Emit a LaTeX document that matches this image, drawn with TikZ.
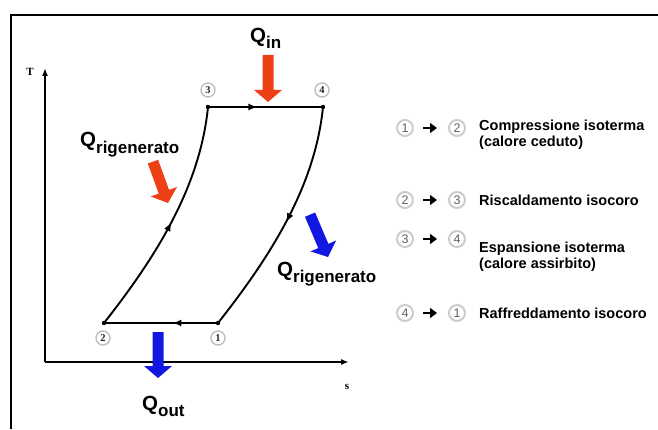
\documentclass[tikz,border=0pt]{standalone}
\usepackage{fontspec}
\setmainfont{Liberation Sans}
\newfontfamily\serifnum{Liberation Serif}
\usetikzlibrary{arrows.meta,decorations.markings}
\definecolor{qred}{RGB}{238,64,22}
\definecolor{qblue}{RGB}{18,24,226}
\tikzset{
  axis/.style = {line width=2pt, -{Latex[length=8pt,width=6pt]}},
  cyclepath/.style = {line width=1.9pt},
  midarrow/.style = {
    postaction={decorate},
    decoration={markings, mark=at position #1 with {\arrow{Latex[length=9pt,width=7pt]}}}
  },
  statenum/.style = {circle, draw=gray!50, line width=1.4pt, inner sep=0pt,
    minimum size=14pt, text=black!85, font=\serifnum\bfseries\fontsize{10.5}{10.5}\selectfont},
  legnum/.style = {circle, draw=gray!40, line width=2pt, inner sep=0pt,
    minimum size=16pt, text=gray!75!black, font=\fontsize{12.5}{12.5}\selectfont},
  legarrow/.style = {line width=2.8pt, -{Triangle[length=7pt,width=10pt]},
    shorten <=9pt, shorten >=11pt},
  legtext/.style = {anchor=west, align=left, inner sep=0pt,
    font=\bfseries\fontsize{14.5}{16.5}\selectfont},
  qlabel/.style = {anchor=base west, inner sep=0pt, font=\bfseries}
}

\begin{document}
\begin{tikzpicture}[x=1pt,y=1pt]
\useasboundingbox (0,0) rectangle (658,429);

% frame
\draw[line width=2.6pt] (11,0) -- (11,414) -- (658,414);

% axes
\coordinate (O) at (45,67);
\coordinate (Tend) at (45,361);
\coordinate (Send) at (349,67);
\draw[axis] (O) -- (Tend);
\draw[axis] (O) -- (Send);
\node[font=\serifnum\bfseries\fontsize{11}{11}\selectfont] (Tlab) at (30,357) {T};
\node[font=\serifnum\bfseries\fontsize{11}{11}\selectfont] (Slab) at (347,42) {s};

% cycle
\coordinate (P1) at (218,106);
\coordinate (P2) at (104,106);
\coordinate (P3) at (208,322);
\coordinate (P4) at (323,322);
\draw[cyclepath, midarrow=0.5] (P2) .. controls (156,172) and (200,242) .. (P3);
\draw[cyclepath, midarrow=0.43] (P3) -- (P4);
\draw[cyclepath, midarrow=0.5] (P4) .. controls (315,242) and (270,172) .. (P1);
\draw[cyclepath, midarrow=0.4] (P1) -- (P2);
\foreach \p in {P1,P2,P3,P4}
  \fill (\p) circle (2.2pt);

% state numbers
\node[statenum] (n1) at (218,91) {1};
\node[statenum] (n2) at (103,91) {2};
\node[statenum] (n3) at (208,339) {3};
\node[statenum] (n4) at (322,339) {4};

% heat arrow: colour, tip, direction, length
\newcommand{\heatarrow}[4]{%
  \fill[#1, shift={(#2)}, rotate=#3] (0,0) -- (-12,14) -- (-12,5.5) -- (-#4,5.5)
    -- (-#4,-5.5) -- (-12,-5.5) -- (-12,-14) -- cycle;%
}
\heatarrow{qred}{268,327}{-90}{47}
\heatarrow{qred}{168,226}{-70}{44}
\heatarrow{qblue}{328,172}{-67}{46}
\heatarrow{qblue}{158,51}{-90}{46}

% heat labels
\newcommand{\heatlabel}[3]{%
  \node[qlabel] (#1) at (#2) {{\fontsize{20.5}{20.5}\selectfont Q}%
    \raisebox{-6pt}{\fontsize{17}{17}\selectfont #3}};%
}
\heatlabel{qin}{250,386}{in}
\heatlabel{qregl}{80,282}{rigenerato}
\heatlabel{qregr}{277,153}{rigenerato}
\heatlabel{qout}{142,19}{out}

% legend
\foreach \a/\b/\y in {1/2/301, 2/3/229, 3/4/190, 4/1/116}{
  \node[legnum] (la\a) at (405,\y) {\a};
  \node[legnum] (lb\a) at (457,\y) {\b};
  \draw[legarrow] (la\a) -- (lb\a);
}
\node[legtext] (t1) at (479,294) {Compressione isoterma\\(calore ceduto)};
\node[legtext] (t2) at (479,229) {Riscaldamento isocoro};
\node[legtext] (t3) at (479,172.5) {Espansione isoterma\\(calore assirbito)};
\node[legtext] (t4) at (479,116) {Raffreddamento isocoro};
\end{tikzpicture}
\end{document}
